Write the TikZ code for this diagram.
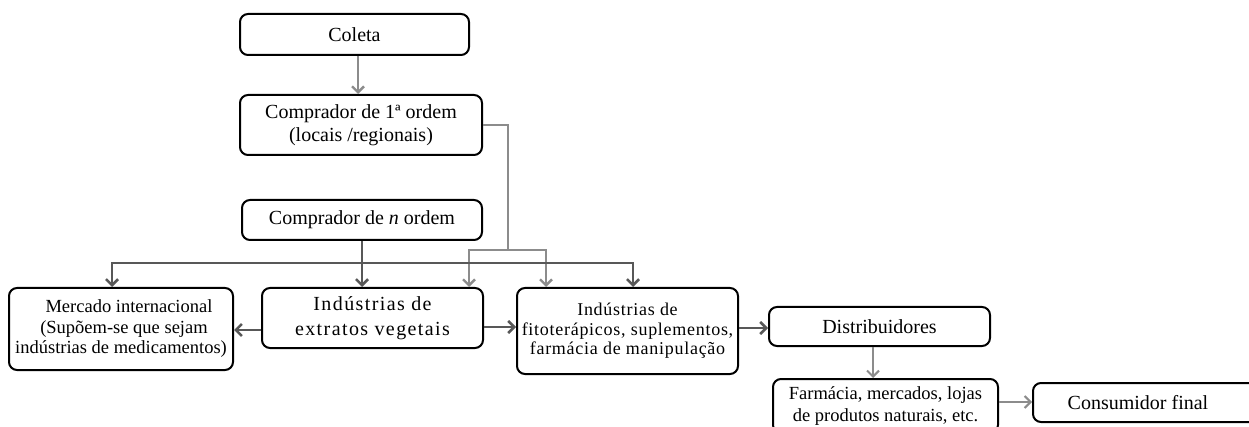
\documentclass[tikz,border=0pt]{standalone}
\usepackage{fontspec}
\setmainfont{Liberation Serif}
\usetikzlibrary{arrows.meta,calc}
\definecolor{lg}{RGB}{140,140,140}
\definecolor{dg}{RGB}{88,88,88}
\tikzset{
  box/.style={draw=black, line width=2pt, rounded corners=8pt, align=center, inner sep=0pt, fill=white},
  tip/.style={-{Straight Barb[length=6pt,width=12pt]}},
  la/.style={draw=lg, line width=2.4pt, tip},
  da/.style={draw=dg, line width=2.6pt, tip},
  ll/.style={draw=lg, line width=2.4pt},
}
\begin{document}
\begin{tikzpicture}[x=1pt,y=-1pt]
\clip (0,0) rectangle (1249,427);
\fill[white] (0,0) rectangle (1249,427);

\node[box, minimum width=229pt, minimum height=41pt, font=\fontsize{20}{24}\selectfont] (coleta) at (354.5,34.5) {Coleta};
\node[box, minimum width=242pt, minimum height=60pt, font=\fontsize{20}{23}\selectfont] (c1) at (361,125) {Comprador de 1ª ordem\\(locais /regionais)};
\node[box, minimum width=240pt, minimum height=40pt, font=\fontsize{20}{24}\selectfont] (cn) at (362,220) {Comprador de \textit{n} ordem};
\node[box, minimum width=224pt, minimum height=82pt, font=\fontsize{18.5}{20.5}\selectfont] (merc) at (121,329) {\hspace*{16pt}Mercado internacional\\\hspace*{6pt}(Supõem-se que sejam\\indústrias de medicamentos)};
\node[box, minimum width=221pt, minimum height=60pt, font=\fontsize{20}{25}\selectfont\addfontfeature{LetterSpace=7}] (extr) at (372.5,318) {Indústrias de\\extratos vegetais};
\node[box, minimum width=221pt, minimum height=86pt, font=\fontsize{18}{19.5}\selectfont\addfontfeature{LetterSpace=4}] (fito) at (627.5,331) {Indústrias de\\fitoterápicos, suplementos,\\farmácia de manipulação};
\node[box, minimum width=221pt, minimum height=39pt, font=\fontsize{20}{24}\selectfont] (dist) at (879.5,326.5) {Distribuidores};
\node[box, minimum width=225pt, minimum height=54pt, font=\fontsize{18.5}{22}\selectfont] (farm) at (885.5,406) {Farmácia, mercados, lojas\\de produtos naturais, etc.};
\node[box, minimum width=237pt, minimum height=39pt, font=\fontsize{20}{24}\selectfont] (cons) at (1151.5,402.5) {Consumidor final\hspace*{27pt}};

\coordinate (a1) at (358,0);
\coordinate (j1) at (508,250);
\coordinate (x469) at (469,0);
\coordinate (x546) at (546,0);
\coordinate (m1) at (112,263);
\coordinate (m2) at (633,263);
\coordinate (y330) at (0,330);
\coordinate (y327) at (0,327);
\coordinate (y328) at (0,328);
\coordinate (x873) at (873,0);
\coordinate (y402) at (0,402);

% light gray connectors
\draw[la] (coleta.south -| a1) -- (c1.north -| a1);
\draw[ll] (c1.east) -| (j1);
\draw[la] (j1) -| (extr.north -| x469);
\draw[la] (j1) -| (fito.north -| x546);

% dark gray connectors
\draw[da] (cn.south) -- (cn.south |- extr.north);
\draw[da, {Straight Barb[length=6pt,width=12pt]}-{Straight Barb[length=6pt,width=12pt]}] (merc.north -| m1) |- (m2) -- (fito.north -| m2);
\draw[da] (extr.west |- y330) -- (merc.east |- y330);
\draw[da] (extr.east |- y327) -- (fito.west |- y327);
\draw[da] (fito.east |- y328) -- (dist.west |- y328);

\draw[la, line width=2pt] (dist.south -| x873) -- (farm.north -| x873);
\draw[la, line width=2pt] (farm.east |- y402) -- (cons.west |- y402);
\end{tikzpicture}
\end{document}
